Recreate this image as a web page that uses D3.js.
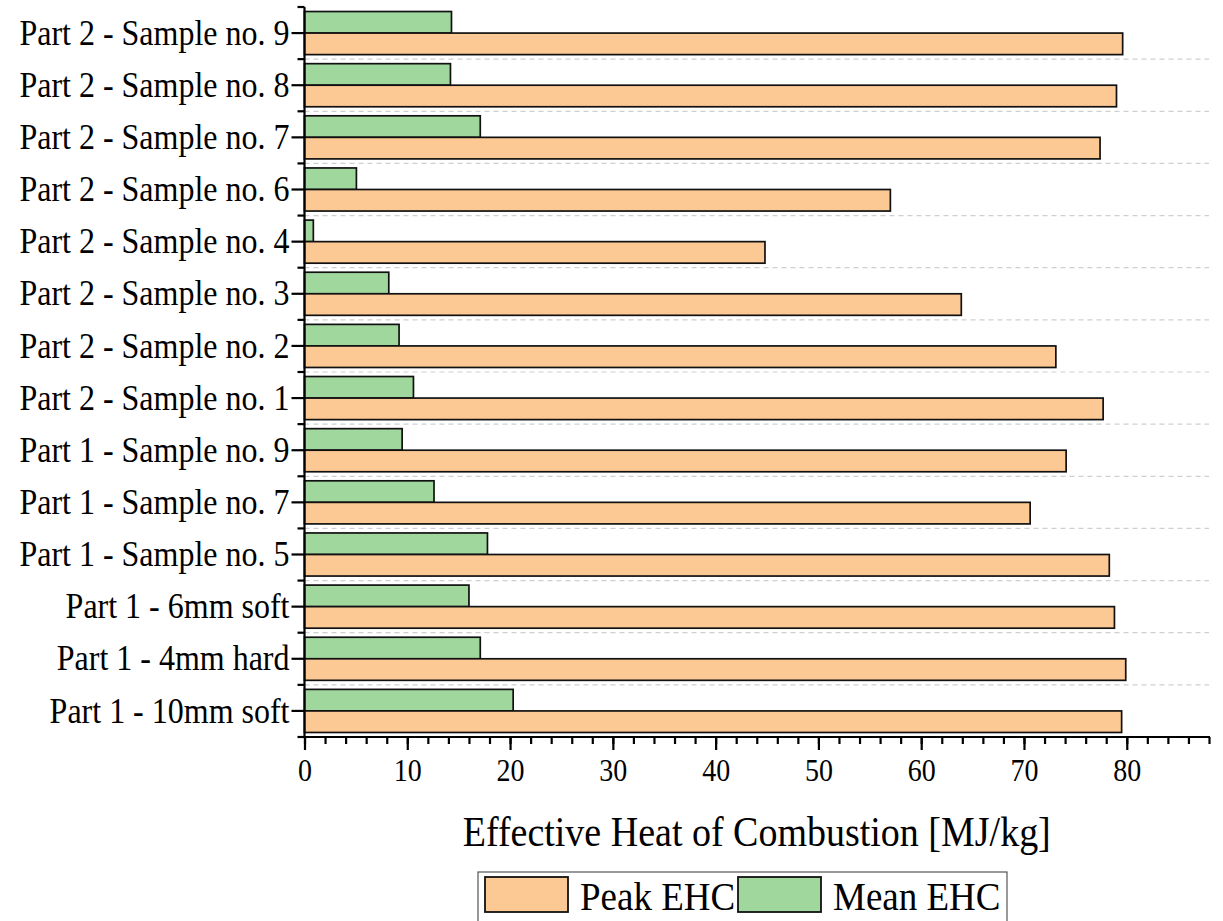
<!DOCTYPE html>
<html>
<head>
<meta charset="utf-8">
<script src="https://cdn.jsdelivr.net/npm/d3@7"></script>
<style>
  html, body { margin: 0; padding: 0; background: #fff; }
  svg { display: block; }
  text { font-family: "Liberation Serif", "Times New Roman", serif; fill: #000;
         transform-box: fill-box; transform-origin: center; transform: scaleY(1.1); }
</style>
</head>
<body>
<svg id="chart" width="1223" height="921"></svg>
<script>
// ---- data (top to bottom) ----
const categories = [
  "Part 2 - Sample no. 9",
  "Part 2 - Sample no. 8",
  "Part 2 - Sample no. 7",
  "Part 2 - Sample no. 6",
  "Part 2 - Sample no. 4",
  "Part 2 - Sample no. 3",
  "Part 2 - Sample no. 2",
  "Part 2 - Sample no. 1",
  "Part 1 - Sample no. 9",
  "Part 1 - Sample no. 7",
  "Part 1 - Sample no. 5",
  "Part 1 - 6mm soft",
  "Part 1 - 4mm hard",
  "Part 1 - 10mm soft"
];
const peakEHC = [79.6, 79.0, 77.4, 57.0, 44.8, 63.9, 73.1, 77.7, 74.1, 70.6, 78.3, 78.8, 79.9, 79.5];
const meanEHC = [14.3, 14.2, 17.1, 5.05, 0.86, 8.2, 9.2, 10.6, 9.5, 12.6, 17.8, 16.0, 17.1, 20.3];
const seriesNames = ["Mean EHC", "Peak EHC"];   // within-band order (top, bottom)
const legendOrder = ["Peak EHC", "Mean EHC"];
const xTicks = [0, 10, 20, 30, 40, 50, 60, 70, 80];
const xMinorTicks = d3.range(0, 89, 2);
const xLabel = "Effective Heat of Combustion [MJ/kg]";
const colors = { "Peak EHC": "#FCC893", "Mean EHC": "#9FD79D" };

(function () {
// ---- layout ----
const svg = d3.select("#chart");
const pLeft = 304.5, pRight = 1209, pTop = 7, pBottom = 737;

const x = d3.scaleLinear().domain([0, 88]).range([pLeft, pRight]);
const y = d3.scaleBand().domain(categories).range([pTop, pBottom]).padding(0);
const inner = d3.scaleBand().domain(seriesNames)
  .range([0, y.bandwidth()]).paddingInner(0).paddingOuter(0.21);

const rows = categories.map((c, i) => ({ cat: c, "Peak EHC": peakEHC[i], "Mean EHC": meanEHC[i] }));

// grid lines (dashed, at band boundaries)
const boundaries = categories.map(c => y(c)).concat([pBottom]);
svg.append("g").selectAll("line").data(boundaries.slice(1, -1)).join("line")
  .attr("x1", pLeft).attr("x2", pRight)
  .attr("y1", d => d).attr("y2", d => d)
  .attr("stroke", "#cfcfcf").attr("stroke-width", 1.2)
  .attr("stroke-dasharray", "5,4");

// bars
const groups = svg.append("g").selectAll("g").data(rows).join("g")
  .attr("transform", d => `translate(0,${y(d.cat)})`);
groups.selectAll("rect").data(d => seriesNames.map(s => ({ s, v: d[s] }))).join("rect")
  .attr("x", x(0))
  .attr("y", d => inner(d.s))
  .attr("width", d => x(d.v) - x(0))
  .attr("height", inner.bandwidth())
  .attr("fill", d => colors[d.s])
  .attr("stroke", "#111").attr("stroke-width", 1.7);

// y axis
const yAxisG = svg.append("g");
yAxisG.append("line").attr("x1", pLeft).attr("x2", pLeft).attr("y1", pTop).attr("y2", pBottom)
  .attr("stroke", "#000").attr("stroke-width", 2.2);
yAxisG.selectAll("line.minor").data(boundaries).join("line").attr("class", "minor")
  .attr("x1", pLeft - 7).attr("x2", pLeft).attr("y1", d => d).attr("y2", d => d)
  .attr("stroke", "#000").attr("stroke-width", 2.2);
yAxisG.selectAll("line.major").data(categories).join("line").attr("class", "major")
  .attr("x1", pLeft - 13).attr("x2", pLeft)
  .attr("y1", d => y(d) + y.bandwidth() / 2).attr("y2", d => y(d) + y.bandwidth() / 2)
  .attr("stroke", "#000").attr("stroke-width", 2.2);
yAxisG.selectAll("text").data(categories).join("text")
  .attr("x", pLeft - 15)
  .attr("y", d => y(d) + y.bandwidth() / 2)
  .attr("dy", "0.33em")
  .attr("text-anchor", "end")
  .attr("font-size", 32)
  .text(d => d);

// x axis
const xAxisG = svg.append("g").attr("transform", `translate(0,${pBottom})`);
xAxisG.call(d3.axisBottom(x).tickValues(xMinorTicks).tickSize(7).tickFormat(""))
  .call(g => g.select(".domain").remove())
  .call(g => g.selectAll("line").attr("stroke", "#000").attr("stroke-width", 2.2));
const xMajor = svg.append("g").attr("transform", `translate(0,${pBottom})`);
xMajor.call(d3.axisBottom(x).tickValues(xTicks).tickSize(13).tickPadding(10).tickFormat(d3.format("d")))
  .call(g => g.select(".domain").remove())
  .call(g => g.selectAll("line").attr("stroke", "#000").attr("stroke-width", 2.2))
  .call(g => g.selectAll("text").attr("font-size", 28)
      .attr("font-family", "'Liberation Serif', 'Times New Roman', serif").attr("fill", "#000"));
svg.append("line").attr("x1", pLeft - 1).attr("x2", pRight + 1).attr("y1", pBottom).attr("y2", pBottom)
  .attr("stroke", "#000").attr("stroke-width", 2.2);

// x label
svg.append("text")
  .attr("x", (pLeft + pRight) / 2)
  .attr("y", 845)
  .attr("text-anchor", "middle")
  .attr("font-size", 38)
  .text(xLabel);

// legend
const lg = svg.append("g");
lg.append("rect").attr("x", 478).attr("y", 872).attr("width", 529).attr("height", 60)
  .attr("fill", "#fff").attr("stroke", "#555").attr("stroke-width", 1.2);
const legendPos = { "Peak EHC": 485, "Mean EHC": 738 };
legendOrder.forEach(s => {
  lg.append("rect").attr("x", legendPos[s]).attr("y", 877).attr("width", 83).attr("height", 35)
    .attr("fill", colors[s]).attr("stroke", "#111").attr("stroke-width", 1.8);
  lg.append("text").attr("x", legendPos[s] + 95).attr("y", 909)
    .attr("font-size", 37).text(s);
});
})();
</script>
</body>
</html>
